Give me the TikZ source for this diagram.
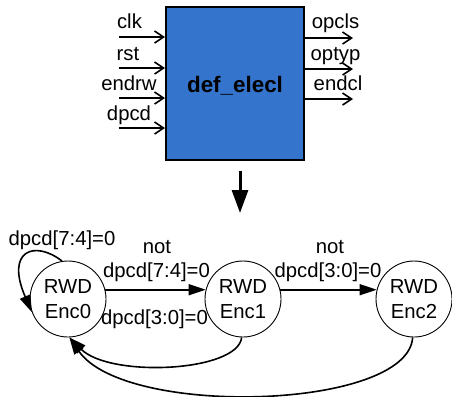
\documentclass[tikz,border=0pt]{standalone}
\usepackage{fontspec}
\setmainfont{Liberation Sans}
\usetikzlibrary{arrows.meta}
\definecolor{blockblue}{RGB}{52,116,204}
\begin{document}
\begin{tikzpicture}[x=1bp,y=-1bp,
  lbl/.style={font=\fontsize{20.3bp}{24bp}\selectfont, inner sep=0pt, anchor=base},
  port/.style={line width=1.6bp, -{Straight Barb[length=9bp,width=12bp]}},
  state/.style={circle, draw, line width=0.9bp, minimum size=76bp, inner sep=0pt,
    align=center, font=\fontsize{20.3bp}{25bp}\selectfont},
  trans/.style={line width=1.6bp, -{Triangle[length=17bp,width=11bp]}},
]
\useasboundingbox (0,0) rectangle (452,396);

% the block and its name
\node[draw, fill=blockblue, line width=2bp, minimum width=138bp,
  minimum height=153bp, inner sep=0pt] (blk) at (235,83.5) {};
\node[lbl, font=\bfseries\fontsize{22.4bp}{26bp}\selectfont] (blkname) at (235,92) {def\_elecl};

% inputs
\coordinate (clkin) at (119,37);
\coordinate (rstin) at (119,68);
\coordinate (endrwin) at (119,98);
\coordinate (dpcdin) at (119,128);
\draw[port] (clkin) -- (clkin -| blk.west);
\draw[port] (rstin) -- (rstin -| blk.west);
\draw[port] (endrwin) -- (endrwin -| blk.west);
\draw[port] (dpcdin) -- (dpcdin -| blk.west);
\node[lbl] (clklbl) at (129.5,28) {clk};
\node[lbl] (rstlbl) at (128,60) {rst};
\node[lbl] (endrwlbl) at (129,90) {endrw};
\node[lbl] (dpcdlbl) at (129,120) {dpcd};

% outputs
\coordinate (opclsout) at (353,38);
\coordinate (optypout) at (353,69);
\coordinate (endclout) at (353,99);
\draw[port] (opclsout -| blk.east) -- (opclsout);
\draw[port] (optypout -| blk.east) -- (optypout);
\draw[port] (endclout -| blk.east) -- (endclout);
\node[lbl] (opclslbl) at (335.5,28) {opcls};
\node[lbl] (optyplbl) at (335.5,60) {optyp};
\node[lbl] (endcllbl) at (338,90) {endcl};

% refinement arrow
\coordinate (flowtop) at (240,171);
\coordinate (flowtip) at (240,213);
\draw[line width=3bp, -{Triangle[length=23bp,width=16bp]}] (flowtop) -- (flowtip);

% state machine
\node[state] (e0) at (68,299) {RWD\\Enc0};
\node[state] (e1) at (243,299) {RWD\\Enc1};
\node[state] (e2) at (414,299) {RWD\\Enc2};

\draw[trans] (e0.14) -- (e1.166);
\draw[trans] (e1.14) -- (e2.166);
\draw[trans] (e0.99) .. controls (35,240) and (5,250) .. (e0.200);
\draw[trans] (e1.268) .. controls (238,372) and (110,378) .. (e0.272);
\draw[trans] (e2.268) .. controls (408,410) and (125,418) .. (e0.272);

\node[lbl] (loop0) at (62,245) {dpcd[7:4]=0};
\node[lbl] (t01a) at (157,253) {not};
\node[lbl] (t01b) at (156.5,277) {dpcd[7:4]=0};
\node[lbl] (t10) at (154.5,324) {dpcd[3:0]=0};
\node[lbl] (t12a) at (330,253) {not};
\node[lbl] (t12b) at (328,277) {dpcd[3:0]=0};
\end{tikzpicture}
\end{document}
